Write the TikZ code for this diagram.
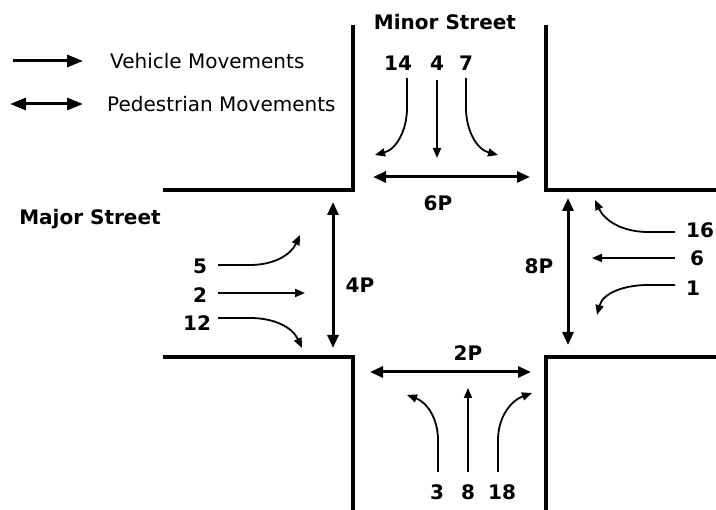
\documentclass[tikz,border=0pt]{standalone}
\usepackage{fontspec}
\setmainfont{DejaVu Sans}
\usetikzlibrary{arrows.meta,positioning}
\tikzset{
  curb/.style = {line width=3.5pt, line join=miter},
  veh/.style = {line width=1.8pt, -{Triangle[length=10pt,width=8pt]}},
  bidir/.style = {line width=3pt, {Triangle[length=13pt,width=11pt]}-{Triangle[length=13pt,width=11pt]}},
  legveh/.style = {line width=3pt, -{Triangle[length=16pt,width=12pt]}},
  legped/.style = {line width=3pt, {Triangle[length=16pt,width=12pt]}-{Triangle[length=16pt,width=12pt]}},
  num/.style = {font=\fontsize{20}{24}\selectfont\bfseries, inner sep=0pt},
  legtext/.style = {font=\fontsize{20}{24}\selectfont, inner sep=0pt}
}

\begin{document}
\begin{tikzpicture}[x=1pt, y=1pt]
\useasboundingbox (0,0) rectangle (716,510);

% curbs
\draw[curb] (353,485) -- (353,320) -- (163,320);
\draw[curb] (546,485) -- (546,320) -- (716,320);
\draw[curb] (163,153) -- (353,153) -- (353,0);
\draw[curb] (716,153) -- (546,153) -- (546,0);

% legend
\coordinate (v0) at (13,449);
\coordinate (v1) at (83,449);
\coordinate (w0) at (10,406);
\coordinate (w1) at (83,406);
\node[legtext, right=27pt of v1] (vtxt) {Vehicle Movements};
\node[legtext, right=24pt of w1] (ptxt) {Pedestrian Movements};
\draw[legveh] (v0) -- (v1);
\draw[legped] (w0) -- (w1);

% street names
\node[num] (minor) at (445,488) {Minor Street};
\node[num] (major) at (90,291) {Major Street};

% movement numbers
\node[num] (n14) at (398,447) {14};
\node[num] (n4)  at (437,447) {4};
\node[num] (n7)  at (466,447) {7};
\node[num] (n5)  at (200,244) {5};
\node[num] (n2)  at (200,215) {2};
\node[num] (n12) at (197,187) {12};
\node[num] (n16) at (700,280) {16};
\node[num] (n6)  at (697,252) {6};
\node[num] (n1)  at (693,222) {1};
\node[num] (n3)  at (437,18) {3};
\node[num] (n8)  at (468,18) {8};
\node[num] (n18) at (502,18) {18};

% crosswalk labels
\node[num] (p6) at (438,307) {6P};
\node[num] (p4) at (360,225) {4P};
\node[num] (p8) at (539,244) {8P};
\node[num] (p2) at (468,157) {2P};

% pedestrian movements
\coordinate (c6a) at (373,333);
\coordinate (c6b) at (530,333);
\coordinate (c4a) at (333,308);
\coordinate (c4b) at (333,162);
\coordinate (c8a) at (568,312);
\coordinate (c8b) at (568,165);
\coordinate (c2a) at (370,138);
\coordinate (c2b) at (531,138);
\draw[bidir] (c6a) -- (c6b);
\draw[bidir] (c4a) -- (c4b);
\draw[bidir] (c8a) -- (c8b);
\draw[bidir] (c2a) -- (c2b);

% vehicle movements, minor street (southbound)
\coordinate (a14) at (407,432);
\coordinate (b14) at (375,355);
\coordinate (a4)  at (437,430);
\coordinate (b4)  at (437,352);
\coordinate (a7)  at (466,432);
\coordinate (b7)  at (498,355);
\draw[veh] (a14) -- (407,402) to[out=-90, in=15] (b14);
\draw[veh] (a4) -- (b4);
\draw[veh] (a7) -- (466,402) to[out=-90, in=165] (b7);

% major street (eastbound)
\coordinate (a5)  at (218,245);
\coordinate (b5)  at (300,275);
\coordinate (a2)  at (218,217);
\coordinate (b2)  at (305,217);
\coordinate (a12) at (218,192);
\coordinate (b12) at (302,162);
\draw[veh] (a5) -- (250,245) to[out=0, in=-115] (b5);
\draw[veh] (a2) -- (b2);
\draw[veh] (a12) -- (250,192) to[out=0, in=115] (b12);

% major street (westbound)
\coordinate (a16) at (675,278);
\coordinate (b16) at (595,310);
\coordinate (a6)  at (675,252);
\coordinate (b6)  at (592,252);
\coordinate (a1)  at (675,225);
\coordinate (b1)  at (597,195);
\draw[veh] (a16) -- (648,278) to[out=180, in=-65] (b16);
\draw[veh] (a6) -- (b6);
\draw[veh] (a1) -- (648,225) to[out=180, in=75] (b1);

% minor street (northbound)
\coordinate (a3)  at (438,38);
\coordinate (b3)  at (407,115);
\coordinate (a8)  at (468,38);
\coordinate (b8)  at (468,122);
\coordinate (a18) at (498,38);
\coordinate (b18) at (532,117);
\draw[veh] (a3) -- (438,70) to[out=90, in=-20] (b3);
\draw[veh] (a8) -- (b8);
\draw[veh] (a18) -- (498,70) to[out=90, in=200] (b18);

\end{tikzpicture}
\end{document}
